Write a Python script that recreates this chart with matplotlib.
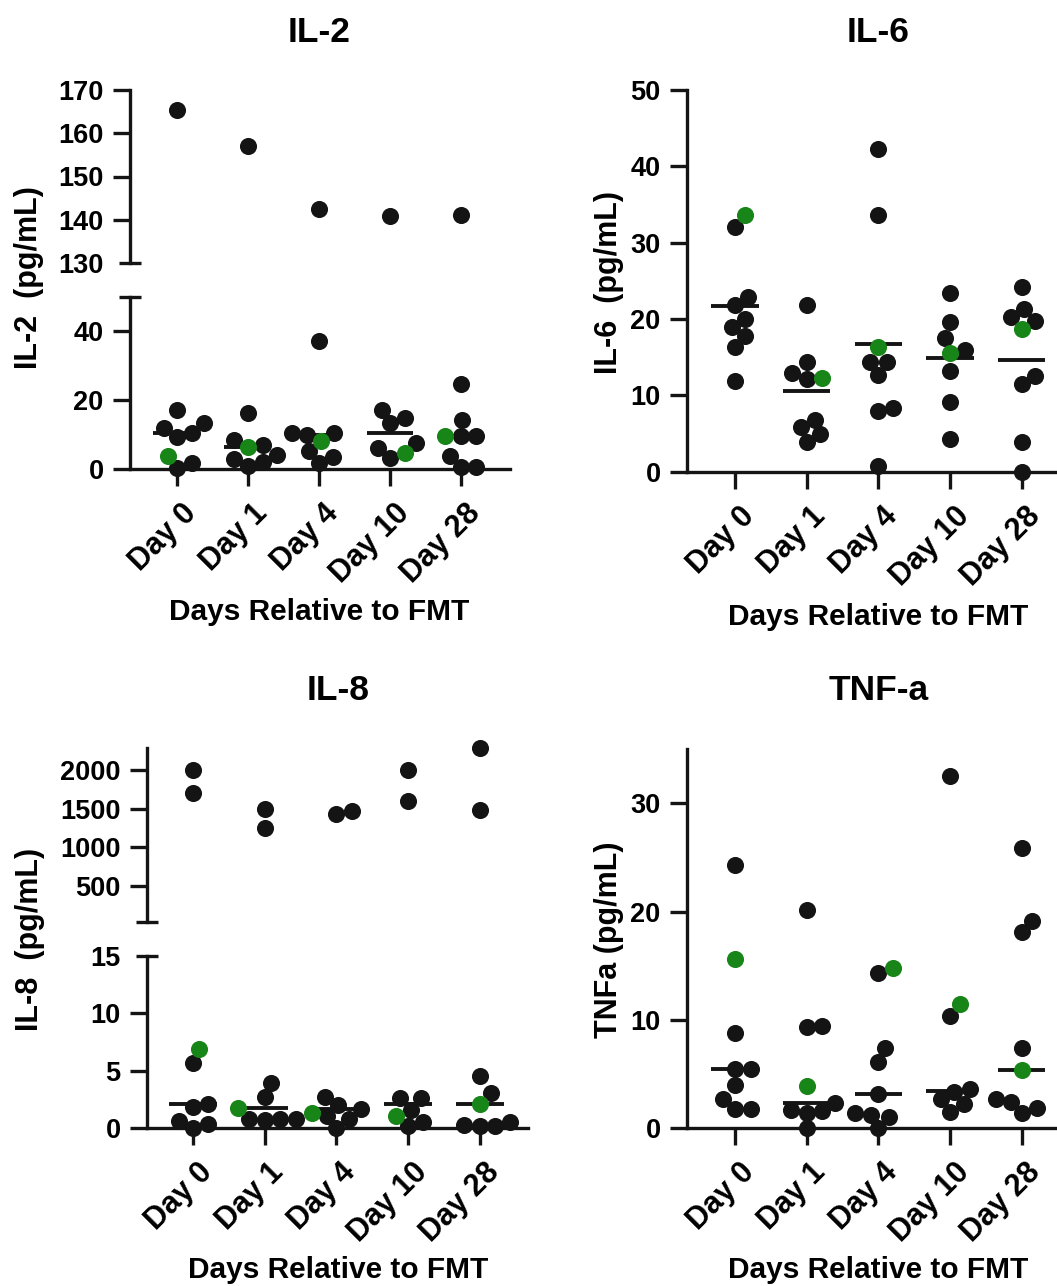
import numpy as np
import matplotlib
matplotlib.use("Agg")
import matplotlib.pyplot as plt
from matplotlib.transforms import ScaledTranslation

plt.rcParams['font.family'] = ['Liberation Sans', 'DejaVu Sans']
plt.rcParams['font.weight'] = 'bold'

days = ['Day 0', 'Day 1', 'Day 4', 'Day 10', 'Day 28']

# values, one list per day; green = the highlighted donor
il2_black = [[165.4, 17.2, 13.5, 12.0, 10.6, 9.3, 1.7, 0.3],
             [157.0, 16.2, 8.5, 7.0, 4.1, 2.9, 2.1, 1.0],
             [142.5, 37.1, 10.6, 10.5, 9.9, 5.2, 3.5, 1.8],
             [140.9, 17.2, 14.9, 13.4, 7.6, 6.1, 3.2],
             [141.2, 24.8, 14.1, 9.6, 9.6, 3.8, 0.7, 0.7]]
il2_green = [3.9, 6.5, 8.0, 4.7, 9.6]

il6_black = [[32.0, 22.9, 21.8, 20.0, 18.9, 17.8, 16.3, 11.9],
             [21.8, 14.4, 12.9, 12.1, 6.8, 5.8, 4.9, 3.9],
             [42.3, 33.6, 14.4, 14.4, 12.7, 8.4, 7.9, 0.8],
             [23.4, 19.6, 17.5, 16.0, 13.2, 9.1, 4.3],
             [24.2, 21.3, 20.2, 19.7, 12.5, 11.5, 3.9, 0.0]]
il6_green = [33.6, 12.3, 16.3, 15.6, 18.7]

il8_black = [[2000, 1706, 5.64, 2.11, 1.88, 0.63, 0.35, 0.0],
             [1500, 1253, 3.96, 2.75, 0.81, 0.81, 0.81, 0.7],
             [1470, 1426, 2.69, 2.02, 1.68, 1.07, 0.78, 0.0],
             [2000, 1602, 2.6, 2.6, 1.59, 0.58, 0.2],
             [2282, 1482, 4.54, 3.04, 0.58, 0.29, 0.2, 0.2]]
il8_green = [6.86, 1.74, 1.36, 1.07, 2.11]

tnf_black = [[24.3, 8.77, 5.47, 5.47, 4.0, 2.68, 1.75, 1.75],
             [20.2, 9.47, 9.38, 2.36, 1.69, 1.63, 1.44, 0.0],
             [14.37, 7.39, 6.09, 3.17, 1.38, 1.23, 1.08, 0.0],
             [32.5, 10.37, 3.6, 3.38, 2.68, 2.22, 1.53],
             [25.85, 19.17, 18.1, 7.39, 2.7, 2.46, 1.85, 1.44]]
tnf_green = [15.6, 3.9, 14.83, 11.48, 5.38]

W, H = 1057, 1286
BLACK = '#141414'
GREEN = '#188518'
LW = 2.4
MS = 12.3          # marker diameter in points
D = 15.5           # swarm spacing in pixels

fig = plt.figure(figsize=(W / 100, H / 100), dpi=100)


def box(l, t, r, b):
    return [l / W, 1 - b / H, (r - l) / W, (b - t) / H]


def style(ax, xlim, bottom=True):
    ax.set_xlim(xlim)
    ax.patch.set_alpha(0)
    for s in ['top', 'right']:
        ax.spines[s].set_visible(False)
    for s in ['left', 'bottom']:
        ax.spines[s].set_linewidth(LW)
        ax.spines[s].set_color(BLACK)
    ax.tick_params(axis='y', length=12, width=LW, pad=7, labelsize=19.5, color=BLACK)
    if bottom:
        ax.set_xticks(range(5))
        ax.set_xticklabels(days, rotation=45, ha='right', va='top',
                           rotation_mode='anchor', fontsize=22)
        ax.tick_params(axis='x', length=12, width=LW, pad=9, color=BLACK)
        for lbl in ax.get_xticklabels():
            lbl.set_transform(lbl.get_transform() + ScaledTranslation(0.04, 0, fig.dpi_scale_trans))
    else:
        ax.spines['bottom'].set_visible(False)
        ax.set_xticks([])


def brk(ax, yfrac):
    wpx = ax.get_position().width * W
    dx = 11 / wpx
    ax.plot([-dx, dx], [yfrac, yfrac], transform=ax.transAxes, color=BLACK,
            lw=LW, clip_on=False, solid_capstyle='butt')


def swarm(ypix):
    xs = np.zeros(len(ypix))
    placed = []
    for i in np.argsort(ypix):
        y = ypix[i]
        cands = [0.0]
        for px, py in placed:
            dy = abs(py - y)
            if dy < D:
                dx = np.sqrt(D * D - dy * dy)
                cands += [px + dx, px - dx]
        cands.sort(key=abs)
        for c in cands:
            if all((c - px) ** 2 + (y - py) ** 2 >= D * D - 1e-6 for px, py in placed):
                xs[i] = c
                break
        placed.append((xs[i], y))
    return xs


def pick(axs, v):
    for a in axs:
        lo, hi = a.get_ylim()
        if lo <= v <= hi:
            return a
    return axs[-1]


def draw_points(axs, blacks, greens, center):
    for i in range(5):
        vals = list(blacks[i]) + [greens[i]]
        cols = [BLACK] * len(blacks[i]) + [GREEN]
        owners = [pick(axs, v) for v in vals]
        ypix = np.array([a.transData.transform((i, v))[1] for a, v in zip(owners, vals)])
        xoff = swarm(ypix)
        t = axs[-1].transData
        unit = t.transform((1, 0))[0] - t.transform((0, 0))[0]
        m = center(vals)
        pick(axs, m).plot([i - 0.33, i + 0.33], [m, m], color=BLACK, lw=LW + 0.4,
                          zorder=2, solid_capstyle='butt')
        for a, v, c, o in zip(owners, vals, cols, xoff):
            a.scatter(i + o / unit, v, s=MS ** 2, color=c, zorder=3,
                      clip_on=False, linewidths=0)


# IL-2 (broken axis)
il2_up = fig.add_axes(box(130, 90, 510, 263))
il2_lo = fig.add_axes(box(130, 297, 510, 469))
il2_up.set_ylim(130, 170)
il2_lo.set_ylim(0, 50)
style(il2_up, (-0.66, 4.69), bottom=False)
style(il2_lo, (-0.66, 4.69))
il2_up.set_yticks([130, 140, 150, 160, 170])
il2_up.yaxis.get_major_ticks()[0].tick1line.set_visible(False)
il2_lo.set_yticks([0, 20, 40])
brk(il2_up, 0)
brk(il2_lo, 1)
draw_points([il2_up, il2_lo], il2_black, il2_green, np.median)

# IL-6
il6 = fig.add_axes(box(687, 90, 1067, 471.7))
il6.set_ylim(0, 50)
style(il6, (-0.67, 4.63))
il6.set_yticks([0, 10, 20, 30, 40, 50])
draw_points([il6], il6_black, il6_green, np.mean)

# IL-8 (broken axis)
il8_up = fig.add_axes(box(147, 748, 528, 922))
il8_lo = fig.add_axes(box(147, 955.7, 528, 1128.3))
il8_up.set_ylim(29, 2285)
il8_lo.set_ylim(0, 15)
style(il8_up, (-0.64, 4.67), bottom=False)
style(il8_lo, (-0.64, 4.67))
il8_up.set_yticks([500, 1000, 1500, 2000])
il8_lo.set_yticks([0, 5, 10, 15])
il8_lo.yaxis.get_major_ticks()[-1].tick1line.set_visible(False)
brk(il8_up, 0)
brk(il8_lo, 1)
draw_points([il8_up, il8_lo], il8_black, il8_green, np.median)

# TNF-a
tnf = fig.add_axes(box(687, 749.3, 1067, 1128.3))
tnf.set_ylim(0, 35)
style(tnf, (-0.67, 4.63))
tnf.set_yticks([0, 10, 20, 30])
draw_points([tnf], tnf_black, tnf_green, np.median)

# titles and axis labels
for x, y, s in [(319, 42, 'IL-2'), (878, 42, 'IL-6'), (338, 700, 'IL-8'), (879, 700, 'TNF-a')]:
    fig.text(x / W, 1 - y / H, s, ha='center', va='baseline', fontsize=25.5)
for x, y in [(319, 620), (878, 625), (338, 1278), (878, 1278)]:
    fig.text(x / W, 1 - y / H, 'Days Relative to FMT', ha='center', va='baseline', fontsize=21.5)
for x, y, s in [(29, 278, 'IL-2  (pg/mL)'), (609, 282, 'IL-6  (pg/mL)'),
                (30, 939, 'IL-8  (pg/mL)'), (609, 940, 'TNFa (pg/mL)')]:
    fig.text(x / W, 1 - y / H, s, rotation=90, ha='center', va='center', fontsize=22)

fig.savefig('out.png', dpi=100)
